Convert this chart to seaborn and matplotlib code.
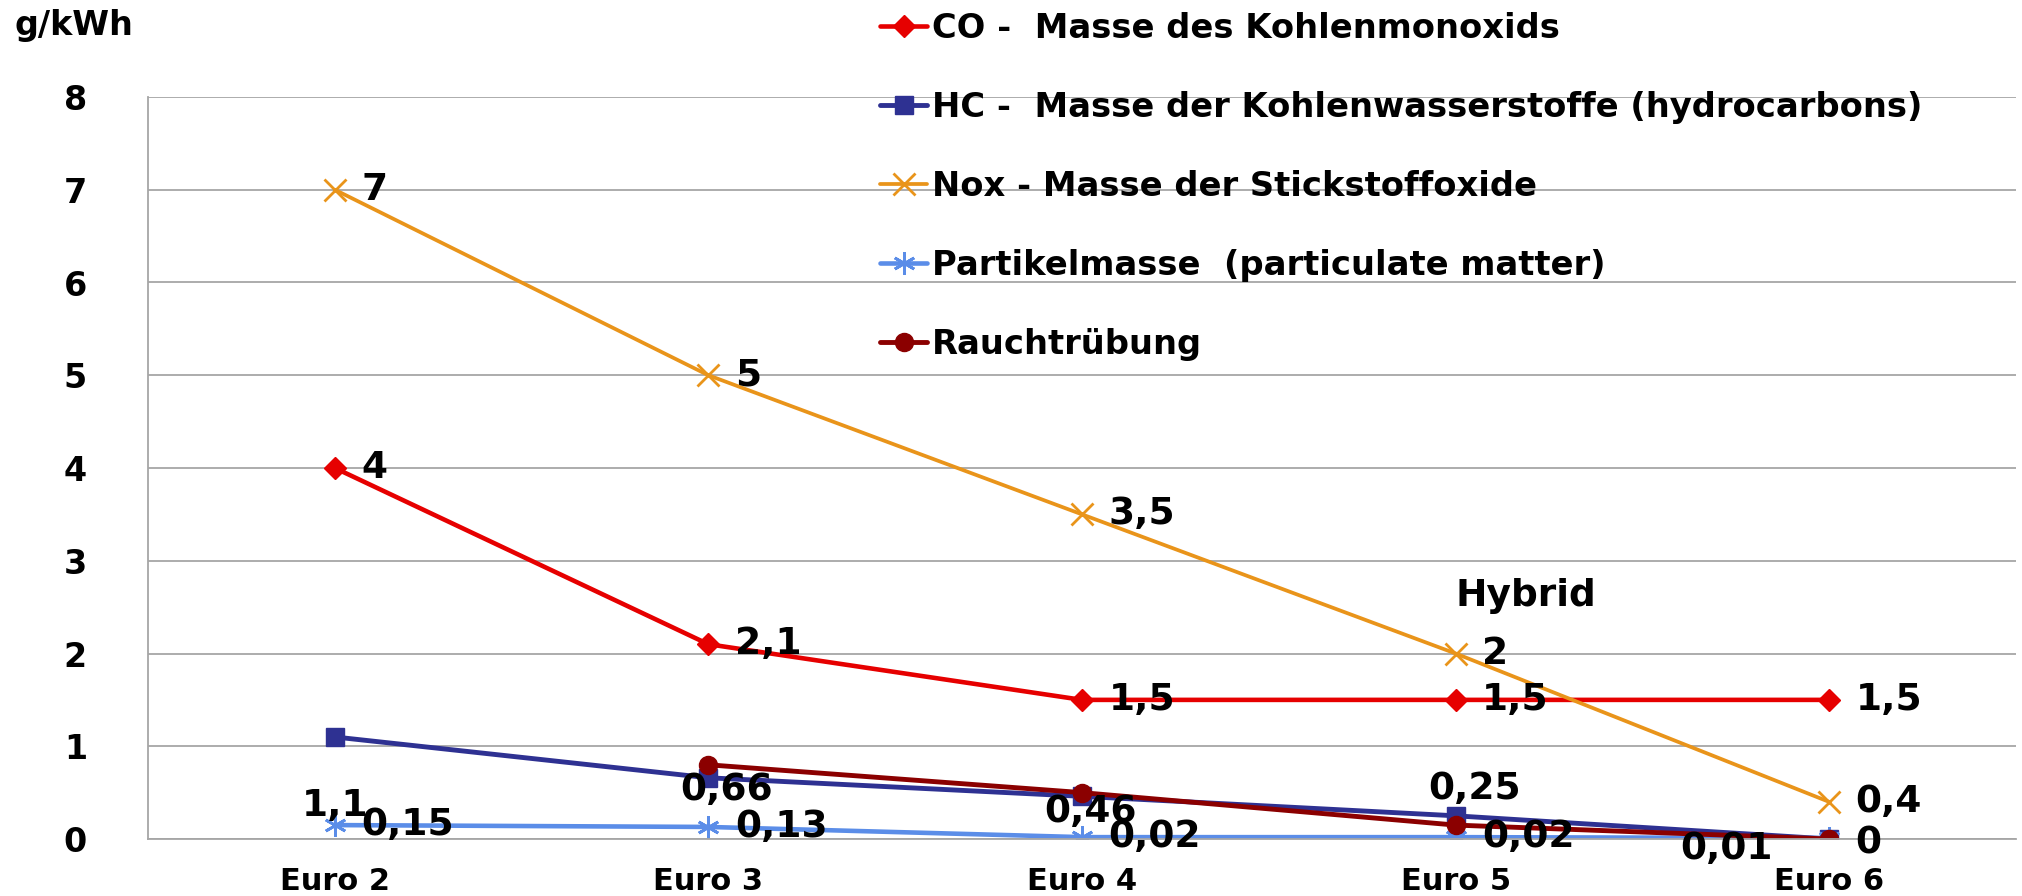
import numpy as np
import pandas as pd
import matplotlib
matplotlib.use("Agg")
import matplotlib.pyplot as plt
from matplotlib.ticker import FixedLocator
import seaborn as sns

# Daten (g/kWh)
categories = ["Euro 2", "Euro 3", "Euro 4", "Euro 5", "Euro 6"]
co = [4, 2.1, 1.5, 1.5, 1.5]
hc = [1.1, 0.66, 0.46, 0.25, 0]
nox = [7, 5, 3.5, 2, 0.4]
pm = [0.15, 0.13, 0.02, 0.02, 0.01]
rauch = [np.nan, 0.8, 0.5, 0.15, 0]

names = ["CO -  Masse des Kohlenmonoxids",
         "HC -  Masse der Kohlenwasserstoffe (hydrocarbons)",
         "Nox - Masse der Stickstoffoxide",
         "Partikelmasse  (particulate matter)",
         "Rauchtrübung"]

sns.set_style("white")
plt.rcParams['font.family'] = ['DejaVu Sans']
plt.rcParams['font.weight'] = 'bold'
plt.rcParams['text.color'] = 'black'

grid_c = "#a6a6a6"

# Stil pro Reihe: Farbe, Marker, Markergröße, Linienbreite
styles = [
    ("#e60000", "D", 11, 3.3),
    ("#2e3192", "s", 13, 3.5),
    ("#e9941a", "x", 16, 2.7),
    ("#5b8de8", (6, 2, 0), 16, 3.3),
    ("#8b0000", "o", 13, 3.5),
]

R = (19, 0, "left")
offsets = [
    [R, R, R, R, R],
    [(0, -50, "center"), (13, -9, "center"), (6, -11, "center"), (14, 19, "center"), (19, -3, "left")],
    [R, R, R, R, R],
    [R, R, R, R, (-41, -8, "right")],
    None,
]

fig = plt.figure(figsize=(20.22, 8.96), dpi=100)
ax = fig.add_axes([148 / 2022, 1 - 839 / 896, (2016 - 148) / 2022, (839 - 97) / 896])

series = [co, hc, nox, pm, rauch]
for vals, name, (c, m, ms, lw) in zip(series, names, styles):
    df = pd.DataFrame({"Stufe": categories, "Wert": vals})
    sns.lineplot(data=df, x="Stufe", y="Wert", ax=ax, color=c, marker=m, markersize=ms,
                 linewidth=lw, markeredgecolor=c,
                 markeredgewidth=2 if (m == "x" or isinstance(m, tuple)) else 1,
                 label=name, sort=False, legend=True)

# Datenbeschriftungen
for vals, offs in zip(series, offsets):
    if offs is None:
        continue
    for i, (v, (dx, dy, ha)) in enumerate(zip(vals, offs)):
        ax.annotate(f"{v:g}".replace(".", ","), (i, v), xytext=(dx, dy), textcoords="offset points",
                    ha=ha, va="center", fontsize=27, fontweight="bold", color="black", zorder=5)

ax.text(3, 2.62, "Hybrid", ha="left", va="center", fontsize=27, fontweight="bold")

ax.set_xlim(-0.5, 4.5)
ax.set_ylim(0, 8)
ax.set_yticks(range(0, 9))
ax.set_xlabel("")
ax.set_ylabel("")
ax.grid(axis="y", color=grid_c, linewidth=1.3)
ax.grid(axis="x", visible=False)
ax.set_axisbelow(True)

for s in ["top", "right"]:
    ax.spines[s].set_visible(False)
for s in ["left", "bottom"]:
    ax.spines[s].set_color(grid_c)
    ax.spines[s].set_linewidth(1.3)

ax.tick_params(axis="y", which="major", length=8, width=1.3, color=grid_c, pad=36,
               labelsize=24, labelcolor="black")
ax.tick_params(axis="x", which="major", length=0, pad=20, labelsize=22, labelcolor="black")
ax.xaxis.set_minor_locator(FixedLocator([-0.5, 0.5, 1.5, 2.5, 3.5, 4.5]))
ax.tick_params(axis="x", which="minor", length=9, width=1.3, color=grid_c, direction="out")
for lab in ax.get_xticklabels() + ax.get_yticklabels():
    lab.set_fontweight("bold")

handles, labels = ax.get_legend_handles_labels()
ax.get_legend().remove()
fig.legend(handles, labels, loc="upper left", bbox_to_anchor=(880 / 2022, 1 - 12 / 896),
           bbox_transform=fig.transFigure, frameon=False, borderpad=0, borderaxespad=0,
           handlelength=1.4, handletextpad=0.15, labelspacing=1.36,
           prop={"weight": "bold", "size": 24.3})

fig.text(15 / 2022, 1 - 26 / 896, "g/kWh", ha="left", va="center", fontsize=24, fontweight="bold")

fig.savefig("out.png", dpi=100)
